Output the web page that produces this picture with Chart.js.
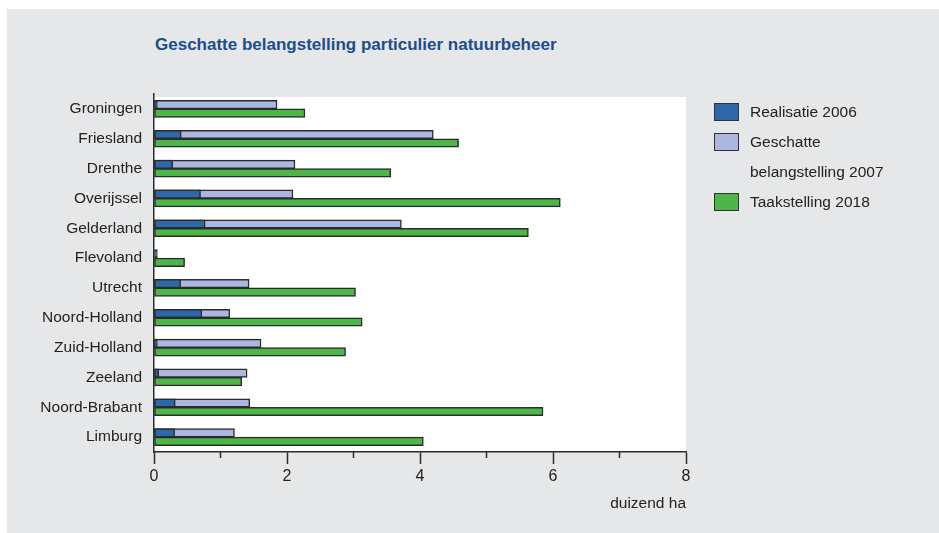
<!DOCTYPE html>
<html>
<head>
<meta charset="utf-8">
<script src="https://cdn.jsdelivr.net/npm/chart.js@4"></script>
<style>
    body { margin: 0; background: #fff; width: 939px; height: 533px; overflow: hidden; position: relative; }
    #panel { position: absolute; left: 7px; top: 9px; right: 0; bottom: 0; background: #e6e7e9; }
    #wrap { position: absolute; left: 0; top: 0; width: 939px; height: 533px; }
    .narrow { font-family: "Liberation Sans", Arial, sans-serif; }
    #title { position: absolute; left: 155px; top: 35px; font-size: 17px; font-weight: bold; color: #1b4e8c; white-space: nowrap; }
    #legend { position: absolute; left: 714px; top: 100px; font-size: 15.5px; color: #222; }
    .item { position: relative; height: 30px; line-height: 24px; padding-left: 36px; white-space: nowrap; }
    .box { position: absolute; left: 0; top: 3px; width: 23px; height: 16px; border: 1.5px solid #333; }
</style>
</head>
<body>
<div id="panel"></div>
<div id="title" class="narrow">Geschatte belangstelling particulier natuurbeheer</div>
<div id="wrap"><canvas id="chart" width="939" height="533"></canvas></div>
<div id="legend" class="narrow"></div>
<script>
// Provinces (top to bottom)
const provinces = ['Groningen', 'Friesland', 'Drenthe', 'Overijssel', 'Gelderland', 'Flevoland',
    'Utrecht', 'Noord-Holland', 'Zuid-Holland', 'Zeeland', 'Noord-Brabant', 'Limburg'];

// Values in thousand ha
const realisatie2006 = [0.05, 0.41, 0.28, 0.70, 0.77, 0.05, 0.40, 0.72, 0.05, 0.07, 0.32, 0.31];
const belangstelling2007 = [1.85, 4.20, 2.12, 2.09, 3.72, null, 1.43, 1.14, 1.61, 1.40, 1.44, 1.21];
const taakstelling2018 = [2.27, 4.58, 3.56, 6.11, 5.63, 0.46, 3.03, 3.13, 2.88, 1.32, 5.85, 4.05];

const xTicks = [0, 2, 4, 6, 8];
const minorTicks = [1, 3, 5, 7];

const seriesNames = ['Realisatie 2006', ['Geschatte', 'belangstelling 2007'], 'Taakstelling 2018'];
const colors = ['#2d69a9', '#abb7e1', '#4cb748'];

const FONT = '"Liberation Sans", Arial, sans-serif';
const EDGE = '#2b2b2b';

// Build legend
const legend = document.getElementById('legend');
seriesNames.forEach((name, i) => {
    const lines = Array.isArray(name) ? name : [name];
    lines.forEach((line, j) => {
        const div = document.createElement('div');
        div.className = 'item';
        div.innerHTML = (j === 0 ? `<span class="box" style="background:${colors[i]}"></span>` : '') + line;
        legend.appendChild(div);
    });
});

// White plot background
const plotBackground = {
    id: 'plotBackground',
    beforeDraw(chart) {
        const { ctx, chartArea } = chart;
        ctx.save();
        ctx.fillStyle = '#fff';
        ctx.fillRect(chartArea.left, chartArea.top + 3, chartArea.right - chartArea.left, chartArea.bottom - chartArea.top - 3);
        ctx.restore();
    }
};

// Short minor ticks under the axis
const minorTickMarks = {
    id: 'minorTickMarks',
    afterDraw(chart) {
        const { ctx, chartArea, scales } = chart;
        ctx.save();
        ctx.strokeStyle = EDGE;
        ctx.lineWidth = 1.5;
        minorTicks.forEach(v => {
            const x = scales.x.getPixelForValue(v);
            ctx.beginPath();
            ctx.moveTo(x, chartArea.bottom);
            ctx.lineTo(x, chartArea.bottom + 6);
            ctx.stroke();
        });
        ctx.restore();
    }
};

const barStyle = {
    borderColor: EDGE,
    borderWidth: 1.5,
    borderSkipped: false,
    barThickness: 8.5,
    categoryPercentage: 0.7
};

new Chart(document.getElementById('chart'), {
    type: 'bar',
    data: {
        labels: provinces,
        datasets: [
            { label: 'Realisatie 2006', data: realisatie2006, backgroundColor: colors[0], stack: 'a', ...barStyle },
            { label: 'Geschatte belangstelling 2007', data: belangstelling2007, backgroundColor: colors[1], stack: 'a', ...barStyle },
            { label: 'Taakstelling 2018', data: taakstelling2018, backgroundColor: colors[2], stack: 'b', ...barStyle }
        ]
    },
    options: {
        indexAxis: 'y',
        responsive: false,
        animation: false,
        layout: { padding: { top: 94, right: 253, bottom: 0, left: 0 } },
        plugins: {
            legend: { display: false },
            tooltip: { enabled: false }
        },
        scales: {
            x: {
                stacked: false,
                min: 0,
                max: 8,
                afterBuildTicks: scale => { scale.ticks = xTicks.map(v => ({ value: v })); },
                afterFit: scale => { scale.height = 81; },
                ticks: { color: '#222', font: { family: FONT, size: 16 }, padding: 3, maxRotation: 0 },
                grid: { drawOnChartArea: false, drawTicks: true, tickLength: 12, tickColor: EDGE, tickWidth: 1.5 },
                border: { color: EDGE, width: 1.5 },
                title: { display: true, text: 'duizend ha', align: 'end', color: '#222', font: { family: FONT, size: 15.5 }, padding: { top: 0, bottom: 20 } }
            },
            y: {
                stacked: true,
                afterFit: scale => { scale.width = 154; },
                ticks: { color: '#222', font: { family: FONT, size: 15.5 }, padding: 12 },
                grid: { display: false, drawTicks: false },
                border: { color: EDGE, width: 1.5 }
            }
        }
    },
    plugins: [plotBackground, minorTickMarks]
});
</script>
</body>
</html>
